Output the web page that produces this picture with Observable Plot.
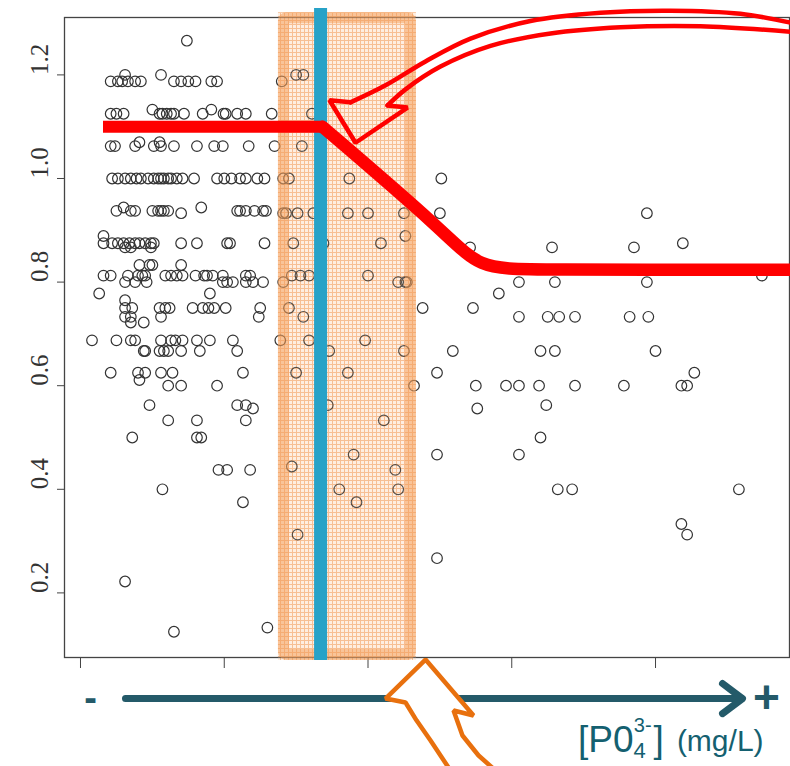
<!DOCTYPE html>
<html><head><meta charset="utf-8">
<script src="https://cdn.jsdelivr.net/npm/d3@7"></script>
<script src="https://cdn.jsdelivr.net/npm/@observablehq/plot@0.6"></script>
<style>html,body{margin:0;padding:0;background:#fff;overflow:hidden}#chart{width:790px;height:766px}</style>
</head><body><div id="chart"></div>
<script>
// y levels (ratio) and x positions of observations at each level
const yLevels = [1.266,1.2,1.1875,1.133,1.125,1.07,1.0625,1.0,0.944,0.9375,0.933,0.889,0.875,0.867,0.833,0.8125,0.8,0.778,0.765,0.75,0.733,0.722,0.6875,0.667,0.625,0.611,0.6,0.5625,0.556,0.533,0.5,0.467,0.444,0.4375,0.4,0.375,0.333,0.3125,0.267,0.222,0.133,0.125];
const xByLevel = [
 [0.74],
 [0.31,0.56,1.50,1.55],
 [0.21,0.26,0.29,0.33,0.38,0.42,0.65,0.70,0.75,0.80,0.91,0.95,1.40],
 [0.50,0.91],
 [0.21,0.25,0.30,0.55,0.57,0.60,0.63,0.65,0.72,0.85,0.995,1.01,1.09,1.15,1.33,1.61],
 [0.41,0.55],
 [0.21,0.24,0.38,0.51,0.56,0.65,0.81,0.93,0.99,1.17,1.35,1.54],
 [0.22,0.26,0.31,0.35,0.39,0.42,0.47,0.51,0.54,0.56,0.58,0.61,0.63,0.67,0.71,0.79,0.95,1.0,1.05,1.11,1.15,1.23,1.28,1.41,1.45,1.87,2.51],
 [0.30,0.84],
 [0.25,0.35,0.38,0.50,0.54,0.56,0.58,0.61,1.09,1.11,1.15,1.21,1.27,1.29],
 [0.70,1.41,1.43,1.51,1.62,1.86,2.0,2.25,2.50,3.94],
 [0.16,2.26],
 [0.16,0.22,0.26,0.30,0.34,0.38,0.41,0.45,0.49,0.51,0.70,0.81,1.02,1.04,1.28,1.48,1.69,2.09,4.19],
 [0.31,0.35,0.49,2.71,3.28,3.85],
 [0.41,0.48,0.50,0.70],
 [0.16,0.21,0.33,0.40,0.43,0.45,0.59,0.63,0.67,0.71,0.80,0.86,0.88,0.92,0.99,1.15,1.18,1.47,1.53,1.59,2.0,4.74],
 [0.31,0.38,0.46,0.99,1.02,1.06,1.15,1.20,1.27,1.41,2.21,2.26,2.27,3.05,3.30,3.94],
 [0.13,0.90,2.91],
 [0.31],
 [0.31,0.36,0.55,0.59,0.62,0.78,0.85,0.89,0.93,1.01,1.25,1.45,2.38,2.73],
 [0.31,0.35,0.56,1.24,1.55,3.05,3.25,3.33,3.44,3.82,3.95],
 [0.35,0.44],
 [0.08,0.25,0.35,0.38,0.56,0.63,0.66,0.71,0.81,0.90,1.06,1.39,1.59,1.98],
 [0.44,0.45,0.55,0.58,0.61,0.70,0.83,1.09,1.73,2.25,2.59,3.20,3.30,4.0],
 [0.21,0.40,0.45,0.56,0.64,1.13,1.50,1.86,2.48,4.27],
 [0.41],
 [0.61,0.70,0.95,2.32,2.75,2.96,3.05,3.19,3.44,3.78,4.18,4.22],
 [0.48,1.09,1.15,1.72,3.24],
 [1.20,2.76],
 [0.61,0.81,1.15,2.11],
 [0.36,0.81,0.84,3.20],
 [1.90,2.48,3.05],
 [1.47],
 [0.96,1.02,1.18,2.19],
 [0.57,1.80,2.21,3.32,3.42,4.58],
 [1.13,1.92],
 [4.18],
 [1.51,4.22],
 [2.48],
 [0.31],
 [1.30],
 [0.65]
];
const xTicks = [0,1,2,3,4];
const yTicks = [0.2,0.4,0.6,0.8,1.0,1.2];

// annotations (data units)
const bandRange = {x1:1.377, x2:2.337, y1:0.0695, y2:1.32};
const thresholdX = 1.67;
const stepLevel = {x1:0.16, x2:1.70, y:1.1};
const stepDrop = [[1.683,1.1],[2.539,0.896],[2.769,0.826],[3.13,0.824],[4.95,0.824]];
const arrowOuter = [[4.953,1.300],[4.591,1.318],[4.104,1.324],[3.617,1.320],[3.130,1.304],[2.713,1.270],[2.400,1.226],[2.122,1.180],[1.878,1.147]];
const arrowHead = [[1.878,1.147],[1.732,1.151],[1.913,1.069],[2.275,1.137],[2.136,1.141]];
const arrowInner = [[2.136,1.141],[2.261,1.172],[2.504,1.216],[2.852,1.256],[3.270,1.280],[3.757,1.292],[4.313,1.294],[4.953,1.283]];
const axisArrowShaft = [[0.313,-0.004],[4.60,-0.004]];
const axisArrowHead = [[4.466,0.025],[4.605,-0.004],[4.466,-0.033]];
const axisSigns = [{x:0.07,y:-0.004,t:"-",s:38},{x:4.772,y:-0.004,t:"+",s:46}];
const orangeArrow = [[2.574,-0.143],[2.435,-0.085],[2.337,-0.046],[2.261,-0.0116],[2.122,-0.0039],[2.400,0.0714],[2.734,-0.0367],[2.595,-0.027],[2.657,-0.0753],[2.769,-0.1139],[2.887,-0.143]];

const points = yLevels.flatMap((y,i)=>xByLevel[i].map(x=>({x,y})));
const P = a => a.map(([x,y])=>({x,y}));
const red = "#ff0000", teal = "#245a69";

const svg = Plot.plot({
  width: 790, height: 766,
  marginLeft: 64, marginRight: 1, marginTop: 17, marginBottom: 109,
  x: {domain: [-0.1113, 4.932]},
  y: {domain: [0.0753, 1.3108]},
  style: {background: "#fff", overflow: "hidden"},
  marks: [
    Plot.rect([bandRange], {x1:"x1", x2:"x2", y1:"y1", y2:"y2", fill:"url(#bandgrid)", fillOpacity:0.6}),
    Plot.dot(points, {x:"x", y:"y", r:5.3, stroke:"#333", strokeWidth:1.2, fill:"none"}),
    Plot.axisX({ticks: xTicks, tickSize: 11, tickFormat: () => "", stroke:"#444", label:null}),
    Plot.axisY({ticks: yTicks, tickSize: 7, tickFormat: () => "", stroke:"#444", label:null}),
    Plot.text(yTicks, {y: d=>d, text: d=>d.toFixed(1), frameAnchor:"left", dx:-25, rotate:-90, fontFamily:"'Liberation Serif', 'Times New Roman', serif", fontSize:25, fill:"#333"}),
    Plot.frame({stroke:"#444", strokeWidth:1.3}),
    Plot.rect([bandRange], {x1:"x1", x2:"x2", y1:"y1", y2:"y2", fill:"url(#bandgrid)", fillOpacity:0.18}),
    Plot.rect([bandRange], {x1:"x1", x2:"x2", y1:"y1", y2:"y2", fill:"none", stroke:"#f39a52", strokeOpacity:0.5, strokeWidth:11, inset:5.5, rx:3}),
    Plot.ruleX([thresholdX], {y1:0.0695, y2:1.328, stroke:"#27a2c7", strokeWidth:13}),
    Plot.ruleY([stepLevel], {x1:"x1", x2:"x2", y:"y", stroke:red, strokeWidth:12}),
    Plot.line(P(stepDrop), {x:"x", y:"y", curve:"basis", stroke:red, strokeWidth:12.5}),
    Plot.line(P(arrowOuter), {x:"x", y:"y", curve:"catmull-rom", stroke:red, strokeWidth:4.5, strokeLinecap:"round"}),
    Plot.line(P(arrowHead), {x:"x", y:"y", stroke:red, strokeWidth:4.5, strokeLinejoin:"miter", strokeLinecap:"round"}),
    Plot.line(P(arrowInner), {x:"x", y:"y", curve:"catmull-rom", stroke:red, strokeWidth:4.5, strokeLinecap:"round"}),
    Plot.line(P(axisArrowShaft), {x:"x", y:"y", stroke:teal, strokeWidth:7}),
    Plot.line(P(axisArrowHead), {x:"x", y:"y", stroke:teal, strokeWidth:7, strokeLinecap:"round", strokeLinejoin:"round"}),
    Plot.text(axisSigns, {x:"x", y:"y", text:"t", fontSize:d=>d.s, fontWeight:"bold", fill:teal, fontFamily:"'Liberation Sans', Arial, sans-serif"}),
    Plot.line(P(orangeArrow), {x:"x", y:"y", fill:"#fff", stroke:"#e8700e", strokeWidth:4.5, strokeLinejoin:"miter"})
  ]
});

const s = d3.select(svg);
const defs = s.insert("defs", ":first-child");
const pat = defs.append("pattern").attr("id","bandgrid").attr("width",4).attr("height",4).attr("patternUnits","userSpaceOnUse");
pat.append("rect").attr("width",4).attr("height",4).attr("fill","#fde6d2");
pat.append("path").attr("d","M0 0.5H4M0.5 0V4").attr("stroke","#f3a060").attr("stroke-width",1);

// axis title
const t = s.append("text").attr("x",578).attr("y",752).attr("fill","#146070").attr("text-anchor","start")
  .attr("font-family","'Liberation Sans', Arial, sans-serif");
t.append("tspan").attr("font-size",37).text("[P0");
t.append("tspan").attr("font-size",22).attr("dy",6).text("4");
t.append("tspan").attr("font-size",20).attr("dx",-12).attr("dy",-26).text("3-");
t.append("tspan").attr("font-size",37).attr("dx",2).attr("dy",20).text("]");
t.append("tspan").attr("font-size",30).attr("dx",13).attr("dy",-1).text("(mg/L)");

document.getElementById("chart").appendChild(svg);
</script>
</body></html>
